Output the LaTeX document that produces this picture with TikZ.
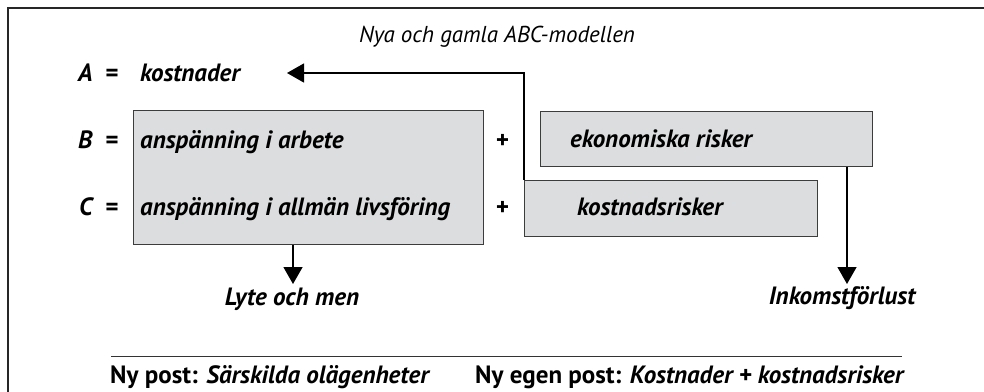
\documentclass[tikz,border=0pt]{standalone}
\usepackage{fontspec}
\newfontfamily\diafont{PT Sans}
\usetikzlibrary{arrows.meta}
\definecolor{boxgray}{RGB}{220,221,223}
\definecolor{edgegray}{RGB}{60,60,60}
\tikzset{
  lbl/.style={font=\diafont\bfseries\itshape\fontsize{25}{29}\selectfont, inner sep=0pt},
  ttl/.style={font=\diafont\itshape\fontsize{23}{27}\selectfont, inner sep=0pt},
  foot/.style={font=\diafont\bfseries\fontsize{25}{29}\selectfont, inner sep=0pt},
  graybox/.style={draw=edgegray, fill=boxgray, line width=0.9pt, inner sep=0pt},
  arr/.style={line width=1.4pt, -{Triangle[length=17pt,width=19pt]}},
}
\begin{document}
\begin{tikzpicture}[x=1pt,y=-1pt]
\useasboundingbox (0,0) rectangle (984,391);
\fill[white] (0,0) rectangle (984,391);
\draw[line width=1.3pt, draw=black!85] (8,8) rectangle (1010,420);
% title
\node[ttl, anchor=base] (title) at (497,42) {Nya och gamla ABC-modellen};
% boxes
\node[graybox, anchor=north west, minimum width=350pt, minimum height=134pt] (bc) at (133,110) {};
\node[graybox, anchor=north west, minimum width=332pt, minimum height=55pt] (eko) at (540,111) {};
\node[graybox, anchor=north west, minimum width=293pt, minimum height=56pt] (kr) at (524,180) {};
% row A
\node[lbl, anchor=base west] (A) at (78,81) {A};
\node[lbl, anchor=base west] (Aeq) at (105,81) {=};
\node[lbl, anchor=base west] (kost) at (140,81) {kostnader};
% row B
\node[lbl, anchor=base west] (B) at (78,148) {B};
\node[lbl, anchor=base west] (Beq) at (105,148) {=};
\node[lbl, anchor=base west] (btext) at (140,148) {anspänning i arbete};
\node[lbl, anchor=base] (bplus) at (502,148) {+};
\node[lbl, anchor=base west] (ekotext) at (570,147) {ekonomiska risker};
% row C
\node[lbl, anchor=base west] (C) at (79,215) {C};
\node[lbl, anchor=base west] (Ceq) at (105,215) {=};
\node[lbl, anchor=base west] (ctext) at (140,215) {anspänning i allmän livsföring};
\node[lbl, anchor=base] (cplus) at (502,215) {+};
\node[lbl, anchor=base west] (krtext) at (577,215) {kostnadsrisker};
% outcomes
\node[lbl, anchor=base] (lyte) at (292,305) {Lyte och men};
\node[lbl, anchor=base] (ink) at (842,304) {Inkomstförlust};
\coordinate (lytetip) at (293,284);
\coordinate (inktip) at (847,284);
\coordinate (kosttip) at (287,73);
% connectors
\draw[arr] (kr.north west) |- (kosttip);
\draw[arr] (lytetip |- bc.south) -- (lytetip);
\draw[arr] (inktip |- eko.south) -- (inktip);
% footer
\draw[line width=0.9pt, draw=black!80] (111,356) -- (902,356);
\node[foot, anchor=base west] (f1) at (110,383) {Ny post: \textit{Särskilda olägenheter}};
\node[foot, anchor=base east] (f2) at (905,383) {Ny egen post: \textit{Kostnader + kostnadsrisker}};
\end{tikzpicture}
\end{document}
